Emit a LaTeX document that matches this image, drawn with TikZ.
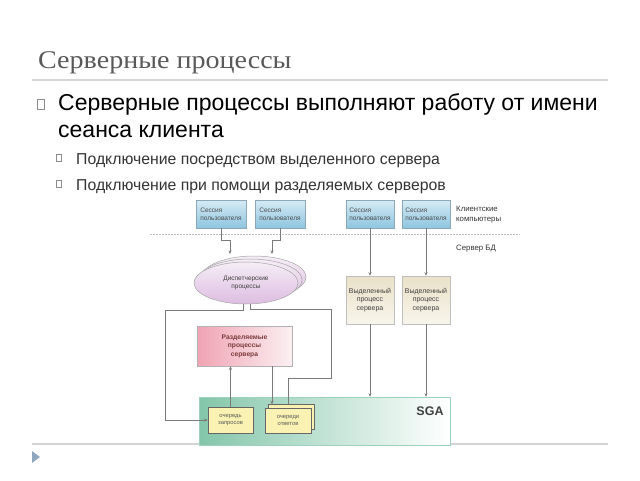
\documentclass[tikz,border=0pt]{standalone}
\usepackage{fontspec}
\setmainfont{Liberation Sans}
\newfontfamily\titlefont[FakeStretch=1.1]{Liberation Serif}
\usetikzlibrary{shapes.geometric,arrows.meta}
\definecolor{titlegray}{HTML}{595959}
\definecolor{rulegray}{HTML}{D4D4D4}
\definecolor{linegray}{HTML}{7A7A7A}
\definecolor{sessblue}{HTML}{8EC5DF}
\definecolor{sesslight}{HTML}{D6EBF5}
\definecolor{sessdraw}{HTML}{8AA8B8}
\definecolor{disp}{HTML}{DDBDE0}
\definecolor{displight}{HTML}{F5EDF6}
\definecolor{shpink}{HTML}{F0A3B3}
\definecolor{shlight}{HTML}{FBF0F2}
\definecolor{shtext}{HTML}{7A3A3A}
\definecolor{beige}{HTML}{E9E1C8}
\definecolor{beigelight}{HTML}{F8F5EC}
\definecolor{sgagreen}{HTML}{84C6AA}
\definecolor{qyellow}{HTML}{FAF2B2}
\definecolor{tri}{HTML}{8FA6BF}
\tikzset{
  sess/.style={draw=sessdraw, line width=0.5pt, top color=sesslight, bottom color=sessblue,
    minimum height=28pt, inner sep=1pt, font=\fontsize{6.5}{8}\selectfont, text=black!70, align=left},
  dedic/.style={draw=black!25, line width=0.5pt, top color=beige, bottom color=beigelight,
    minimum width=48pt, minimum height=48pt, inner sep=1pt, font=\fontsize{7}{8.5}\selectfont, text=black!75, align=center},
  dispell/.style={ellipse, draw=black!35, line width=0.5pt, bottom color=disp, top color=displight,
    minimum width=104pt, minimum height=42pt, inner sep=0pt},
  queue/.style={draw=black!60, line width=0.5pt, fill=qyellow, minimum width=45pt, minimum height=26pt,
    inner sep=1pt, font=\fontsize{5.8}{7.5}\selectfont, text=black!65, align=center},
  conn/.style={draw=linegray, line width=0.7pt},
  arr/.style={conn, -{Stealth[length=3.5pt,width=3pt]}},
  bul/.style={draw=black!45, line width=0.4pt, fill=white, inner sep=0pt},
}
\begin{document}
\begin{tikzpicture}[x=1pt,y=-1pt]
\useasboundingbox (0,0) rectangle (640,480);
% title and rules
\node[anchor=base west, inner sep=0pt, text=titlegray, font=\titlefont\fontsize{25.5}{30}\selectfont] (title) at (38,68) {Серверные процессы};
\draw[rulegray, line width=1.5pt] (32,80) coordinate (r1a) -- (608,80) coordinate (r1b);
\draw[rulegray, line width=1.5pt] (32,444) coordinate (r2a) -- (608,444) coordinate (r2b);
\fill[tri] (32,451) coordinate (t1) -- (40,457) coordinate (t2) -- (32,463) coordinate (t3) -- cycle;
% bullets
\node[bul, minimum width=7pt, minimum height=10pt] (b1) at (41,104) {};
\node[anchor=base west, inner sep=0pt, font=\fontsize{23}{28}\selectfont, align=left] (l1) at (58,110) {Серверные процессы выполняют работу от имени};
\node[anchor=base west, inner sep=0pt, font=\fontsize{23}{28}\selectfont] (l2) at (58,137) {сеанса клиента};
\node[bul, minimum width=5pt, minimum height=7pt] (b2) at (59,158) {};
\node[anchor=base west, inner sep=0pt, font=\fontsize{15.8}{19}\selectfont, text=black!80] (l3) at (76,164) {Подключение посредством выделенного сервера};
\node[bul, minimum width=5pt, minimum height=7pt] (b3) at (59,184) {};
\node[anchor=base west, inner sep=0pt, font=\fontsize{15.8}{19}\selectfont, text=black!80] (l4) at (76,190) {Подключение при помощи разделяемых серверов};
% separator
\draw[black!25, line width=0.6pt, dash pattern=on 1.5pt off 1.5pt] (150,234) coordinate (sepa) -- (520,234) coordinate (sepb);
\node[anchor=west, inner sep=0pt, font=\fontsize{7.8}{10}\selectfont, align=left, text=black!80] (cl) at (456,215) {Клиентские\\компьютеры};
\node[anchor=west, inner sep=0pt, font=\fontsize{7.8}{10}\selectfont, text=black!80] (bd) at (456,249) {Сервер БД};
% SGA
\node[draw=sgagreen!80, line width=0.4pt, left color=sgagreen, right color=white, minimum width=251pt, minimum height=48pt, inner sep=0pt] (sga) at (324.5,421) {};
\node[font=\bfseries\fontsize{12.5}{14}\selectfont, text=black!75, inner sep=0pt] (sgat) at (430,411) {SGA};
% sessions
\node[sess, minimum width=50pt] (s1) at (221,214) {Сессия\\пользователя};
\node[sess, minimum width=50pt] (s2) at (280,214) {Сессия\\пользователя};
\node[sess, minimum width=48pt] (s3) at (370,214) {Сессия\\пользователя};
\node[sess, minimum width=48pt] (s4) at (426,214) {Сессия\\пользователя};
% dispatcher stack
\node[dispell] (e3) at (254,277) {};
\node[dispell] (e2) at (250,280) {};
\node[dispell, font=\fontsize{6.5}{8.5}\selectfont, align=center, text=black!75] (disp) at (246,283) {Диспетчерские\\процессы};
% shared servers
\node[draw=black!30, line width=0.5pt, left color=shpink, right color=shlight, minimum width=95pt, minimum height=40pt,
  font=\bfseries\fontsize{6.7}{8.5}\selectfont, text=shtext, align=center] (sh) at (244.5,346) {Разделяемые\\процессы\\сервера};
% dedicated
\node[dedic] (d1) at (370,300) {Выделенный\\процесс\\сервера};
\node[dedic] (d2) at (426,300) {Выделенный\\процесс\\сервера};
% queues
\node[queue] (rq) at (230.5,420) {очередь\\запросов};
\node[queue, minimum width=46pt, minimum height=25pt] (qab) at (291,417) {};
\node[queue, minimum width=46pt, minimum height=25pt] (qa) at (288,420.5) {очереди\\ответов};
% connectors
\coordinate (a1) at (230,254);
\coordinate (a2) at (272,254);
\coordinate (lft) at (165,420);
\coordinate (rgt) at (331,378);
\coordinate (qx) at (288,0);
\coordinate (shx) at (272,0);
\draw[arr] (s1.south) -- ++(0,12) -| (a1);
\draw[arr] (s2.south) -- ++(0,12) -| (a2);
\draw[arr] (s3.south) -- (d1.north);
\draw[arr] (s4.south) -- (d2.north);
\draw[arr] (d1.south) -- (d1.south |- sga.north);
\draw[arr] (d2.south) -- (d2.south |- sga.north);
\draw[arr] ([xshift=-3pt]disp.south) -- ++(0,6) -| (lft) -- (rq.west);
\draw[conn] ([xshift=4pt]disp.south) -- ++(0,5) -| (rgt) -| (qab.north -| qx);
\draw[arr] (rq.north) -- (rq.north |- sh.south);
\draw[arr] (sh.south -| shx) -- (qab.north -| shx);
\end{tikzpicture}
\end{document}
